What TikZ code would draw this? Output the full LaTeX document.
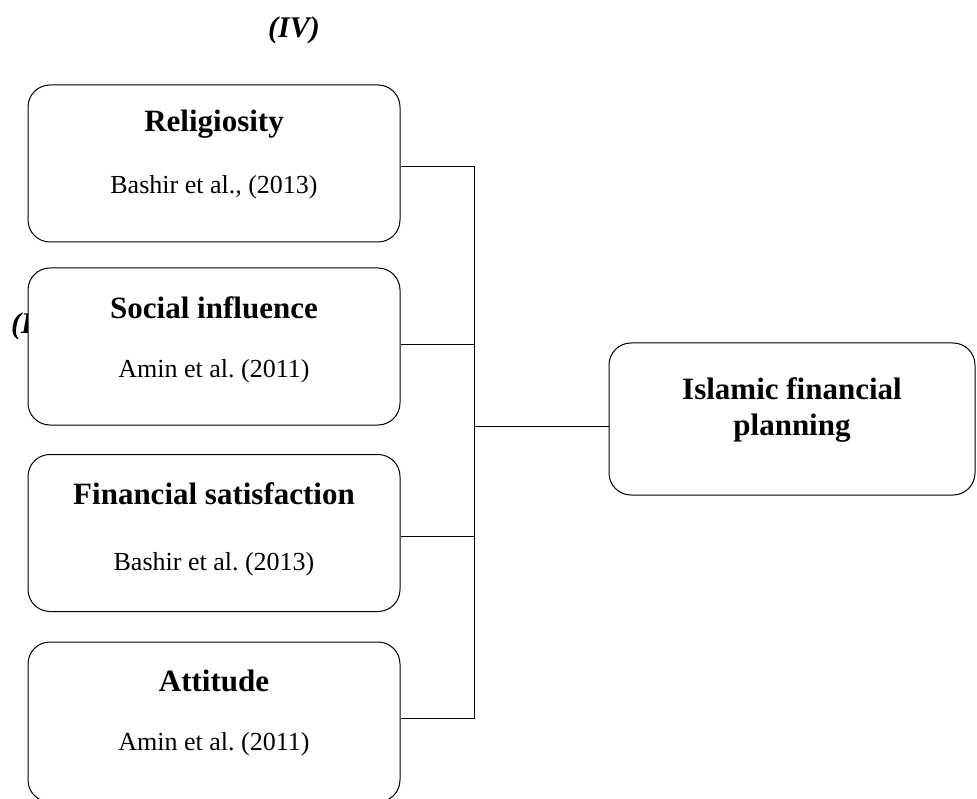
\documentclass[tikz,border=0pt]{standalone}
\usepackage{fontspec}
\setmainfont{Liberation Serif}
\usetikzlibrary{positioning, calc}
\frenchspacing

\begin{document}
\begin{tikzpicture}[
  x=1pt, y=-1pt,
  box/.style={draw, rounded corners=22pt, line width=1pt, fill=white, minimum width=372pt, minimum height=157pt},
  head/.style={font=\fontsize{31}{36}\selectfont\bfseries, align=center},
  cite/.style={font=\fontsize{26}{30}\selectfont},
  tag/.style={font=\fontsize{30}{32}\selectfont\bfseries\itshape},
  link/.style={line width=0.8pt}
]
\useasboundingbox (0,0) rectangle (977,799);

% variable tags
\node[tag] (tagTop) at (294,30) {(IV)};
\node[tag, anchor=west, inner sep=0pt] (tagLeft) at (11,326) {(IV)};

% independent variables
\node[box] (rel) at (214,163.5) {};
\node[box] (soc) at (214,346.5) {};
\node[box] (fin) at (214,533) {};
\node[box, minimum height=160pt] (att) at (214,722) {};

\node[head] (relHead) at ($(rel.north)+(0,40)$) {Religiosity};
\node[cite] (relCite) at ($(rel.north)+(0,103)$) {Bashir et al., (2013)};
\node[head] (socHead) at ($(soc.north)+(0,40)$) {Social influence};
\node[cite] (socCite) at ($(soc.north)+(0,104)$) {Amin et al. (2011)};
\node[head] (finHead) at ($(fin.north)+(0,40)$) {Financial satisfaction};
\node[cite] (finCite) at ($(fin.north)+(0,110)$) {Bashir et al. (2013)};
\node[head] (attHead) at ($(att.north)+(0,39)$) {Attitude};
\node[cite] (attCite) at ($(att.north)+(0,103)$) {Amin et al. (2011)};

% dependent variable
\node[box, minimum width=366pt, minimum height=152pt] (isl) at (792,419) {};
\node[head] (islHead) at ($(isl.north)+(0,68)$) {Islamic financial\\planning};

% connectors
\coordinate (busTop) at (474,166);
\coordinate (busBot) at (474,718);
\coordinate (hub) at (474,426);
\draw[link] (rel.east |- busTop) -- (busTop) -- (busBot) -- (att.east |- busBot);
\draw[link] (soc.east |- 0,344) -- (474,344);
\draw[link] (fin.east |- 0,536) -- (474,536);
\draw[link] (hub) -- (hub -| isl.west);
\end{tikzpicture}
\end{document}
